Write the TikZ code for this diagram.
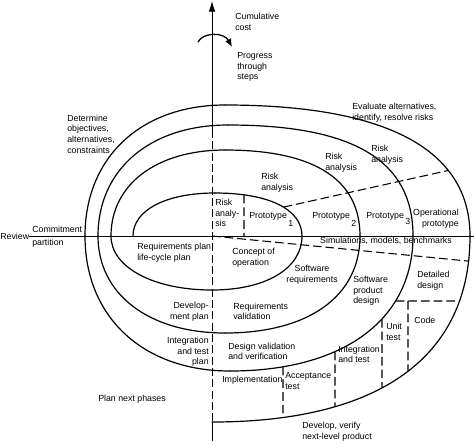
\documentclass[tikz,border=0pt]{standalone}
\usepackage{fontspec}
\setmainfont{Liberation Sans}
\usetikzlibrary{calc,intersections,arrows.meta}
\begin{document}
\begin{tikzpicture}[x=0.75pt,y=-0.75pt,
  spiral/.style={line width=0.9pt, line cap=round},
  dashline/.style={line width=0.8pt, dash pattern=on 6.5pt off 3pt},
  axisdash/.style={line width=0.75pt, dash pattern=on 6pt off 2.5pt},
  lbl/.style={font=\fontsize{6.6}{8}\selectfont, inner sep=0pt, align=left},
]
\useasboundingbox (0,0) rectangle (474,444);
\newcommand\spq[5]{\draw[spiral, name path=#1] (#2) .. controls ($(#2)!#5!(#4)$) and ($(#3)!#5!(#4)$) .. (#3);}
% spiral
\spq{q1l}{133,236}{215,193}{133,193}{0.6}
\spq{q1r}{215,193}{302,236}{302,193}{0.62}
\spq{q2r}{302,236}{212,290}{302,290}{0.6}
\spq{q2l}{212,290}{111,236}{111,290}{0.58}
\spq{q3l}{111,236}{225,150}{111,150}{0.6}
\spq{q3r}{225,150}{360,236}{360,150}{0.66}
\spq{q4r}{360,236}{225,333}{360,333}{0.62}
\spq{q4l}{225,333}{98,236}{98,333}{0.6}
\spq{q5l}{98,236}{228,125}{98,125}{0.6}
\spq{q5r}{228,125}{413,236}{413,125}{0.68}
\spq{q6r}{413,236}{230,371}{413,371}{0.62}
\spq{q6l}{230,371}{85,236}{85,371}{0.6}
\spq{q7l}{85,236}{225,105}{85,105}{0.6}
\spq{q7r}{225,105}{470,236}{470,105}{0.66}
\spq{q8}{470,236}{212,422}{470,422}{0.65}
% axes
\coordinate (o) at (212,236);
\coordinate (top) at (212,1);
\coordinate (ax1) at (212,130);
\coordinate (ax2) at (212,422);
\coordinate (bot) at (212,441);
\draw[line width=0.75pt, -{Latex[length=8pt,width=5pt]}] (ax1) -- (top);
\draw[axisdash] (ax1) -- (ax2);
\draw[line width=0.75pt] (ax2) -- (bot);
\coordinate (hl) at (29,236);
\coordinate (hr) at (474,236);
\draw[line width=0.7pt] (hl) -- (hr);
% curved arrow
\coordinate (ca1) at (198,42);
\coordinate (ca2) at (232,47);
\draw[line width=0.95pt, -{Latex[length=6pt,width=5pt]}] (ca1) .. controls (203,32) and (224,32) .. (ca2);
% helper paths
\path[name path=vra] (244,180) -- (244,240);
\path[name path=up] (270,210.1) -- (460,167.9);
\path[name path=low] (212,236) -- (490,263.2);
\path[name path=hd] (370,301) -- (480,301);
\path[name path=va] (283,300) -- (283,440);
\path[name path=vb] (335,300) -- (335,440);
\path[name path=vc] (382,290) -- (382,440);
\path[name path=vd] (408,290) -- (408,440);
\path[name intersections={of=vra and q1r, by={ra1}}];
\path[name intersections={of=up and q1r, by={u1}}];
\path[name intersections={of=up and q7r, by={u2}}];
\path[name intersections={of=low and q8, by={l2}}];
\path[name intersections={of=hd and q6r, by={h1}}];
\path[name intersections={of=hd and q8, by={h2}}];
\path[name intersections={of=va and q6r, by={a1}}];
\path[name intersections={of=va and q8, by={a2}}];
\path[name intersections={of=vb and q6r, by={b1}}];
\path[name intersections={of=vb and q8, by={b2}}];
\path[name intersections={of=vc and q6r, by={c1}}];
\path[name intersections={of=vc and q8, by={c2}}];
\path[name intersections={of=vd and hd, by={d1}}];
\path[name intersections={of=vd and q8, by={d2}}];
\coordinate (ra2) at (244,236);
\draw[dashline] (ra1) -- (ra2);
\draw[dashline] (u1) -- (u2);
\draw[dashline] (o) -- (l2);
\draw[dashline] (h1) -- (h2);
\draw[dashline] (a1) -- (a2);
\draw[dashline] (b1) -- (b2);
\draw[dashline] (c1) -- (c2);
\draw[dashline] (d1) -- (d2);
% labels
\node[lbl, anchor=west] (cum) at (235,22) {Cumulative\\cost};
\node[lbl, anchor=west] (prog) at (237,67) {Progress\\through\\steps};
\node[lbl, anchor=west] (det) at (67,134) {Determine\\objectives,\\alternatives,\\constraints};
\node[lbl, anchor=west] (eval) at (352,113) {Evaluate alternatives,\\identify, resolve risks};
\node[lbl, anchor=west] (rafour) at (371,155) {Risk\\analysis};
\node[lbl, anchor=west] (rathree) at (325,162.5) {Risk\\analysis};
\node[lbl, anchor=west] (ratwo) at (261,183) {Risk\\analysis};
\node[lbl, anchor=west] (raone) at (215,213) {Risk\\analy-\\sis};
\node[lbl, anchor=base west] (p1) at (249,218) {Prototype\,\raisebox{-6pt}{1}};
\node[lbl, anchor=base west] (p2) at (312,218) {Prototype\,\raisebox{-6pt}{2}};
\node[lbl, anchor=base west] (p3) at (366,218) {Prototype\,\raisebox{-5pt}{3}};
\node[lbl, anchor=east, align=right] (op) at (459,218.5) {Operational\\prototype};
\node[lbl, anchor=center] (sim) at (386,240.5) {Simulations, models, benchmarks};
\node[lbl, anchor=west] (rp) at (137,252.5) {Requirements plan\\life-cycle plan};
\node[lbl, anchor=west] (co) at (232,257.5) {Concept of\\operation};
\node[lbl, align=center] (sr) at (312,274.5) {Software\\requirements};
\node[lbl, anchor=west] (spd) at (353,291) {Software\\product\\design};
\node[lbl, anchor=west] (dd) at (417,280.5) {Detailed\\design};
\node[lbl, anchor=west] (ut) at (386,332) {Unit\\test};
\node[lbl, anchor=west] (code) at (414,320) {Code};
\node[lbl, anchor=west] (it) at (338,354.5) {Integration\\and test};
\node[lbl, anchor=west] (acc) at (285,381) {Acceptance\\test};
\node[lbl, anchor=west] (impl) at (222,380) {Implementation};
\node[lbl, anchor=west] (dvv) at (228,351.5) {Design validation\\and verification};
\node[lbl, anchor=west] (rv) at (233,311.5) {Requirements\\validation};
\node[lbl, anchor=east, align=right] (dp) at (209,311.5) {Develop-\\ment plan};
\node[lbl, anchor=east, align=right] (itp) at (209,352) {Integration\\and test\\plan};
\node[lbl, anchor=west] (pnp) at (98,399) {Plan next phases};
\node[lbl, anchor=west] (dvn) at (302,432) {Develop, verify\\next-level product};
\node[lbl, anchor=west] (rev) at (0,236) {Review};
\node[lbl, anchor=west] (cp) at (32,237) {Commitment\\[1.5pt]partition};
\end{tikzpicture}
\end{document}
